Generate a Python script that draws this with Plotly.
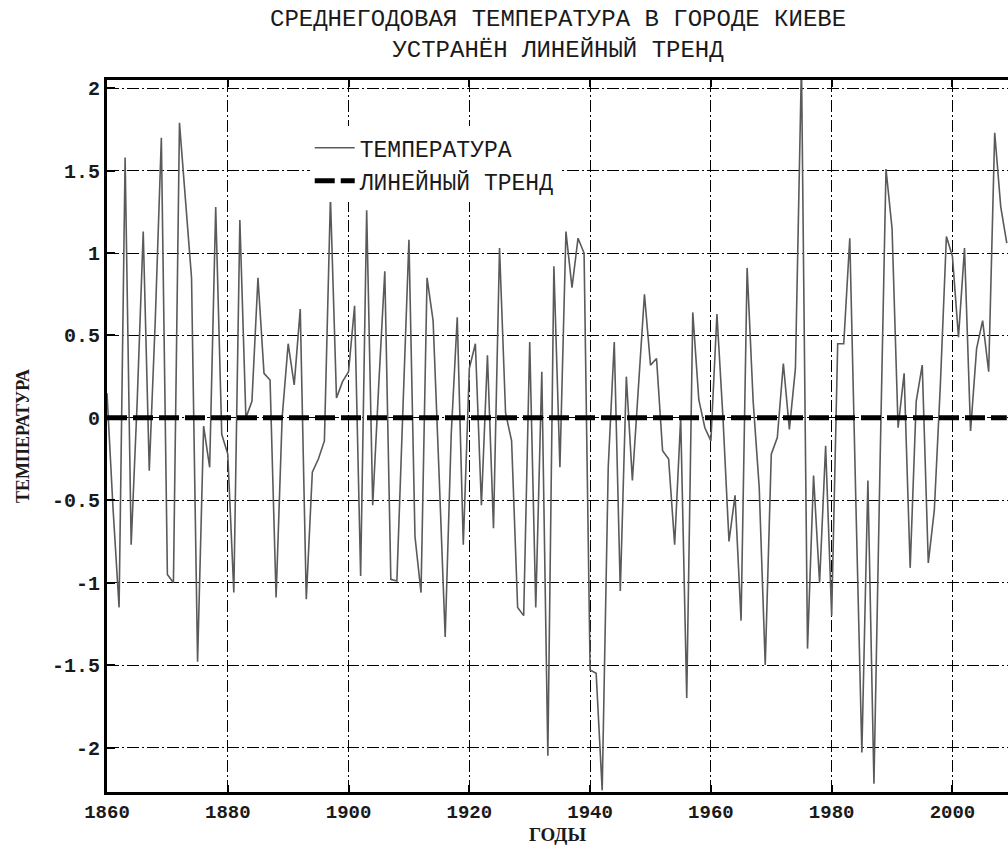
import plotly.graph_objects as go

years = list(range(1860, 2010))
temperature = [
    0.15, -0.55, -1.15, 1.58, -0.77, 0.10, 1.13, -0.32, 0.60, 1.70,   # 1860-1869
    -0.95, -1.00, 1.79, 1.30, 0.85, -1.48, -0.05, -0.30, 1.28, -0.10,  # 1870-1879
    -0.22, -1.06, 1.20, 0.00, 0.10, 0.85, 0.27, 0.23, -1.09, 0.00,     # 1880-1889
    0.45, 0.20, 0.66, -1.10, -0.33, -0.25, -0.14, 1.34, 0.12, 0.22,    # 1890-1899
    0.28, 0.68, -0.96, 1.26, -0.53, 0.20, 0.89, -0.98, -0.99, 0.05,    # 1900-1909
    1.08, -0.72, -1.06, 0.85, 0.59, -0.35, -1.33, -0.10, 0.61, -0.77,  # 1910-1919
    0.30, 0.45, -0.53, 0.38, -0.67, 1.03, 0.03, -0.14, -1.15, -1.20,   # 1920-1929
    0.46, -1.15, 0.28, -2.05, 0.92, -0.30, 1.13, 0.79, 1.09, 1.00,     # 1930-1939
    -1.53, -1.55, -2.26, -0.30, 0.46, -1.05, 0.25, -0.38, 0.20, 0.75,  # 1940-1949
    0.32, 0.36, -0.20, -0.25, -0.77, 0.00, -1.70, 0.64, 0.11, -0.06,   # 1950-1959
    -0.14, 0.63, 0.00, -0.75, -0.47, -1.23, 0.91, 0.10, -0.42, -1.50,  # 1960-1969
    -0.22, -0.12, 0.33, -0.07, 0.30, 2.15, -1.40, -0.35, -1.00, -0.17, # 1970-1979
    -1.20, 0.45, 0.45, 1.09, -0.50, -2.03, -0.38, -2.22, -0.30, 1.51,  # 1980-1989
    1.15, -0.06, 0.27, -0.91, 0.10, 0.32, -0.88, -0.56, 0.20, 1.10,    # 1990-1999
    0.98, 0.49, 1.03, -0.08, 0.42, 0.59, 0.28, 1.73, 1.28, 1.06,       # 2000-2009
]
trend = [0.0 for _ in years]

x_tick_vals = [1860, 1880, 1900, 1920, 1940, 1960, 1980, 2000]
x_tick_text = ["1860", "1880", "1900", "1920", "1940", "1960", "1980", "2000"]
y_tick_vals = [2, 1.5, 1, 0.5, 0, -0.5, -1, -1.5, -2]
y_tick_text = ["2", "1.5", "1", "0.5", "0", "-0.5", "-1", "-1.5", "-2"]

title_text = "СРЕДНЕГОДОВАЯ ТЕМПЕРАТУРА В ГОРОДЕ КИЕВЕ<br>УСТРАНЁН ЛИНЕЙНЫЙ ТРЕНД"
x_title = "ГОДЫ"
y_title = "ТЕМПЕРАТУРА"
series_names = ["ТЕМПЕРАТУРА", "ЛИНЕЙНЫЙ ТРЕНД"]

mono = "Liberation Mono, Courier New, monospace"
serif = "Liberation Serif, Times New Roman, serif"

fig = go.Figure()
fig.add_trace(go.Scatter(
    x=years, y=temperature, mode="lines", name=series_names[0],
    line=dict(color="#5a5a5a", width=1.6),
))
fig.add_trace(go.Scatter(
    x=years, y=trend, mode="lines", name=series_names[1],
    line=dict(color="black", width=5, dash="20px,6px"),
))

grid_dash = "12px,3px,2px,3px"

fig.update_layout(
    width=1008, height=846,
    margin=dict(l=107, r=0, t=80, b=54),
    paper_bgcolor="white", plot_bgcolor="white",
    showlegend=True,
    legend=dict(
        x=0.225, y=0.935, xanchor="left", yanchor="top",
        bgcolor="white", borderwidth=0,
        font=dict(family=mono, size=23, color="#1a1a1a"),
        tracegroupgap=0, itemwidth=40,
    ),
    annotations=[
        dict(text=title_text, x=0.5, y=1.0, xref="paper", yref="paper",
             xanchor="center", yanchor="bottom", yshift=14, showarrow=False,
             font=dict(family=mono, size=24, color="#1a1a1a")),
    ],
    xaxis=dict(
        range=[1860, 2009.2],
        tickvals=x_tick_vals, ticktext=x_tick_text,
        ticks="inside", ticklen=7, tickwidth=2, tickcolor="black",
        showline=True, linewidth=3, linecolor="black", mirror="ticks",
        showgrid=True, gridcolor="black", gridwidth=1, griddash=grid_dash,
        zeroline=False,
        tickfont=dict(family=mono, size=19, color="#1a1a1a", weight="bold"),
        title=dict(text=x_title, standoff=2,
                   font=dict(family=serif, size=19, color="#1a1a1a", weight="bold")),
    ),
    yaxis=dict(
        range=[-2.27, 2.05],
        tickvals=y_tick_vals, ticktext=y_tick_text,
        ticks="inside", ticklen=8, tickwidth=2, tickcolor="black",
        showline=True, linewidth=3, linecolor="black", mirror=False,
        showgrid=True, gridcolor="black", gridwidth=1, griddash=grid_dash,
        zeroline=False,
        tickfont=dict(family=mono, size=20, color="#1a1a1a", weight="bold"),
        title=dict(text=y_title, standoff=18,
                   font=dict(family=serif, size=18, color="#1a1a1a", weight="bold")),
    ),
)

fig.write_html("out.html")
